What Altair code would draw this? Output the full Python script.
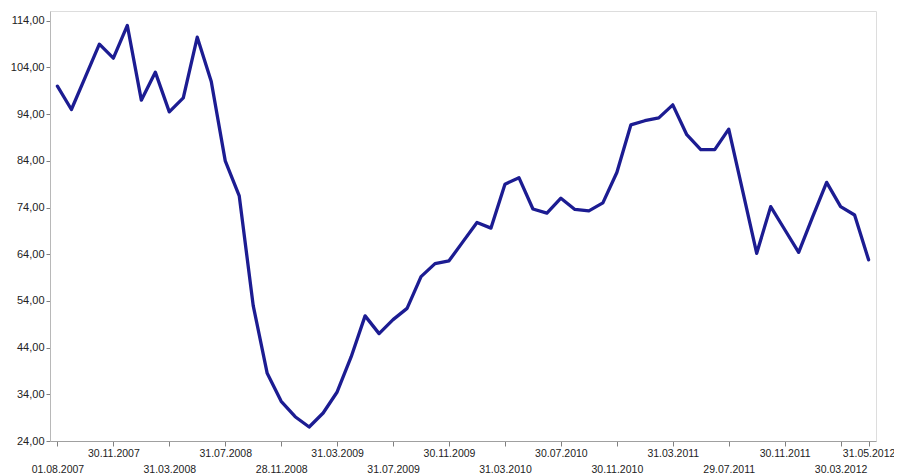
import altair as alt
import pandas as pd

dates = [
    "01.08.2007", "31.08.2007", "28.09.2007", "31.10.2007", "30.11.2007", "31.12.2007",
    "31.01.2008", "29.02.2008", "31.03.2008", "30.04.2008", "30.05.2008", "30.06.2008",
    "31.07.2008", "29.08.2008", "30.09.2008", "31.10.2008", "28.11.2008", "31.12.2008",
    "30.01.2009", "27.02.2009", "31.03.2009", "30.04.2009", "29.05.2009", "30.06.2009",
    "31.07.2009", "31.08.2009", "30.09.2009", "30.10.2009", "30.11.2009", "31.12.2009",
    "29.01.2010", "26.02.2010", "31.03.2010", "30.04.2010", "31.05.2010", "30.06.2010",
    "30.07.2010", "31.08.2010", "30.09.2010", "29.10.2010", "30.11.2010", "31.12.2010",
    "31.01.2011", "28.02.2011", "31.03.2011", "29.04.2011", "31.05.2011", "30.06.2011",
    "29.07.2011", "31.08.2011", "30.09.2011", "31.10.2011", "30.11.2011", "30.12.2011",
    "31.01.2012", "29.02.2012", "30.03.2012", "30.04.2012", "31.05.2012",
]

values = [
    100, 95, 102, 109, 106, 113, 97, 103, 94.5, 97.5,
    110.5, 101, 84, 76.5, 53, 38.5, 32.5, 29.2, 27, 30,
    34.5, 42, 50.8, 47, 50, 52.4, 59.2, 62, 62.6, 66.7,
    70.8, 69.6, 79, 80.4, 73.7, 72.8, 76, 73.6, 73.3, 75,
    81.5, 91.7, 92.6, 93.2, 96, 89.6, 86.4, 86.4, 90.8, 77.5,
    64.2, 74.2, 69.3, 64.4, 72, 79.4, 74.2, 72.4, 62.8,
]

x_ticks_top = ["30.11.2007", "31.07.2008", "31.03.2009", "30.11.2009", "30.07.2010",
               "31.03.2011", "30.11.2011", "31.05.2012"]
x_ticks_bottom = ["01.08.2007", "31.03.2008", "28.11.2008", "31.07.2009", "31.03.2010",
                  "30.11.2010", "29.07.2011", "30.03.2012"]
x_ticks = [d for d in dates if d in x_ticks_top or d in x_ticks_bottom]

y_ticks = [24, 34, 44, 54, 64, 74, 84, 94, 104, 114]

df = pd.DataFrame({"date": dates, "value": values})

bottom_js = "[" + ",".join("'%s'" % d for d in x_ticks_bottom) + "]"

chart = alt.Chart(df).mark_line(
    color="#1c1c92", strokeWidth=3.3, strokeJoin="round", strokeCap="round"
).encode(
    x=alt.X(
        "date:O",
        sort=None,
        scale=alt.Scale(type="point", padding=0.53),
        axis=alt.Axis(
            title=None,
            values=x_ticks,
            labelAngle=0,
            labelExpr="indexof(%s, datum.value) >= 0 ? ['', datum.value] : [datum.value]" % bottom_js,
            labelLineHeight=16,
            labelBaseline="top",
            labelPadding=2,
            tickSize=5,
            labelFontSize=10.5,
            labelFont="Liberation Sans",
            labelColor="#222222",
            domainColor="#a0a0a0",
            tickColor="#808080",
            labelOverlap=False,
            labelBound=False,
        ),
    ),
    y=alt.Y(
        "value:Q",
        scale=alt.Scale(domain=[24, 116.1], nice=False, zero=False),
        axis=alt.Axis(
            title=None,
            values=y_ticks,
            labelExpr="replace(format(datum.value, '.2f'), '.', ',')",
            tickSize=4,
            labelPadding=2,
            labelFontSize=11,
            labelFont="Liberation Sans",
            labelColor="#222222",
            domainColor="#b8b8b8",
            tickColor="#808080",
            grid=False,
            labelOverlap=False,
        ),
    ),
).properties(
    width=826,
    height=430,
    autosize=alt.AutoSizeParams(type="none"),
    padding={"left": 42, "top": 3, "right": 18, "bottom": 36},
).configure_view(
    stroke="#a0a0a0", strokeWidth=1
).configure(background="white")

chart.save("out.html", embed_options={"renderer": "svg", "actions": False})
